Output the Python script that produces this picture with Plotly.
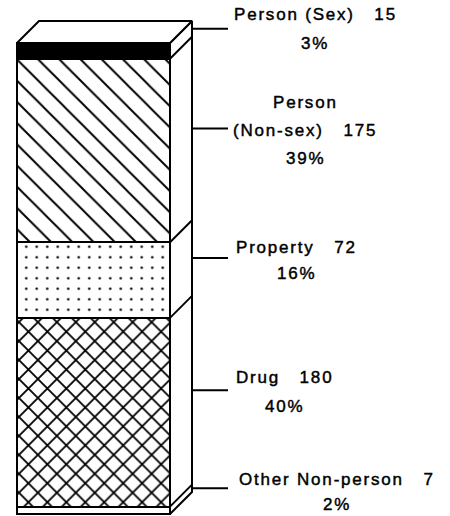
import plotly.graph_objects as go

# ---------------- data (bottom to top of the stack) ----------------
categories = ["Other Non-person", "Drug", "Property", "Person (Non-sex)", "Person (Sex)"]
counts = [7, 180, 72, 175, 15]
percents = ["2%", "40%", "16%", "39%", "3%"]
label_title_lines = [["Other Non-person"], ["Drug"], ["Property"], ["Person", "(Non-sex)"], ["Person (Sex)"]]

# ---------------- styling / layout ----------------
W, H = 450, 516
BAR_LEFT_PX, BAR_RIGHT_PX = 17, 170
FRONT_TOP_PX, FRONT_BOTTOM_PX = 43, 514
DEPTH_PX = 22
LEADER_END_PX = 228

patterns = [
    dict(shape="", fill="white"),
    dict(shape="x", size=13.4, solidity=0.25, fill="white"),
    dict(shape=".", size=10.5, solidity=0.045, fill="white"),
    dict(shape="\\", size=15, solidity=0.13, fill="white"),
    dict(shape="", fill="black"),
]
label_center_px = [337, 284, 296, 305, 315]
# vertical pixel offsets of each text line relative to the leader line
label_line_offsets = [[-9, 16], [-13, 16], [-11, 15], [-26, 2, 30], [-14, 15]]

FONT = dict(family="Liberation Sans, Arial, sans-serif", size=17, color="black")
LS = "letter-spacing:1.8px;stroke:black;stroke-width:0.45px"

total = sum(counts)
ux = BAR_RIGHT_PX - BAR_LEFT_PX                 # px per x unit (bar width = 1)
uy = (FRONT_BOTTOM_PX - FRONT_TOP_PX) / total   # px per count
cx_px = (BAR_LEFT_PX + BAR_RIGHT_PX) / 2
x_range = [(0 - cx_px) / ux, (W - cx_px) / ux]
y_range = [(FRONT_BOTTOM_PX - H) / uy, FRONT_BOTTOM_PX / uy]
dx = DEPTH_PX / ux
dy = DEPTH_PX / uy
xl, xr = -0.5, 0.5

def px_to_x(p):
    return (p - cx_px) / ux

fig = go.Figure()

# front face: stacked bars
for cat, v, pat in zip(categories, counts, patterns):
    marker = dict(color=pat["fill"], line=dict(color="black", width=2))
    if pat["shape"]:
        marker["pattern"] = dict(shape=pat["shape"], size=pat["size"], solidity=pat["solidity"],
                                 fgcolor="black", bgcolor="white", fillmode="replace")
    fig.add_trace(go.Bar(x=[0], y=[v], width=1, name=cat, marker=marker, showlegend=False,
                         hoverinfo="skip"))

# cumulative boundaries
cum = [0]
for v in counts:
    cum.append(cum[-1] + v)

# right side face
fig.add_trace(go.Scatter(
    x=[xr, xr + dx, xr + dx, xr, xr],
    y=[0, dy, total + dy, total, 0],
    mode="lines", fill="toself", fillcolor="white",
    line=dict(color="black", width=2), showlegend=False, hoverinfo="skip"))
# top face
fig.add_trace(go.Scatter(
    x=[xl, xl + dx, xr + dx, xr, xl],
    y=[total, total + dy, total + dy, total, total],
    mode="lines", fill="toself", fillcolor="white",
    line=dict(color="black", width=2), showlegend=False, hoverinfo="skip"))
# boundary lines on side face
bx, by = [], []
for c in cum[1:-1]:
    bx += [xr, xr + dx, None]
    by += [c, c + dy, None]
fig.add_trace(go.Scatter(x=bx, y=by, mode="lines", line=dict(color="black", width=2),
                         showlegend=False, hoverinfo="skip"))

# leader lines
lx, ly = [], []
mids = [(cum[i] + cum[i + 1]) / 2 + dy for i in range(len(counts))]
for m in mids:
    lx += [xr + dx, px_to_x(LEADER_END_PX), None]
    ly += [m, m, None]
fig.add_trace(go.Scatter(x=lx, y=ly, mode="lines", line=dict(color="black", width=2),
                         showlegend=False, hoverinfo="skip"))

# labels
for i in range(len(counts)):
    lines = list(label_title_lines[i])
    lines[-1] = lines[-1] + "\u00a0\u00a0 " + str(counts[i])
    lines.append(percents[i])
    for t, off in zip(lines, label_line_offsets[i]):
        fig.add_annotation(x=px_to_x(label_center_px[i]), y=mids[i], yshift=-off,
                           text=f'<span style="{LS}">{t}</span>', showarrow=False,
                           xanchor="center", yanchor="middle", font=FONT)

fig.update_layout(
    width=W, height=H, margin=dict(l=0, r=0, t=0, b=0),
    paper_bgcolor="white", plot_bgcolor="white",
    barmode="stack", bargap=0,
    xaxis=dict(range=x_range, visible=False, fixedrange=True),
    yaxis=dict(range=y_range, visible=False, fixedrange=True),
)

fig.write_html("out.html", config={"displayModeBar": False},
               post_script="document.body.style.margin='0';document.body.style.padding='0';")
